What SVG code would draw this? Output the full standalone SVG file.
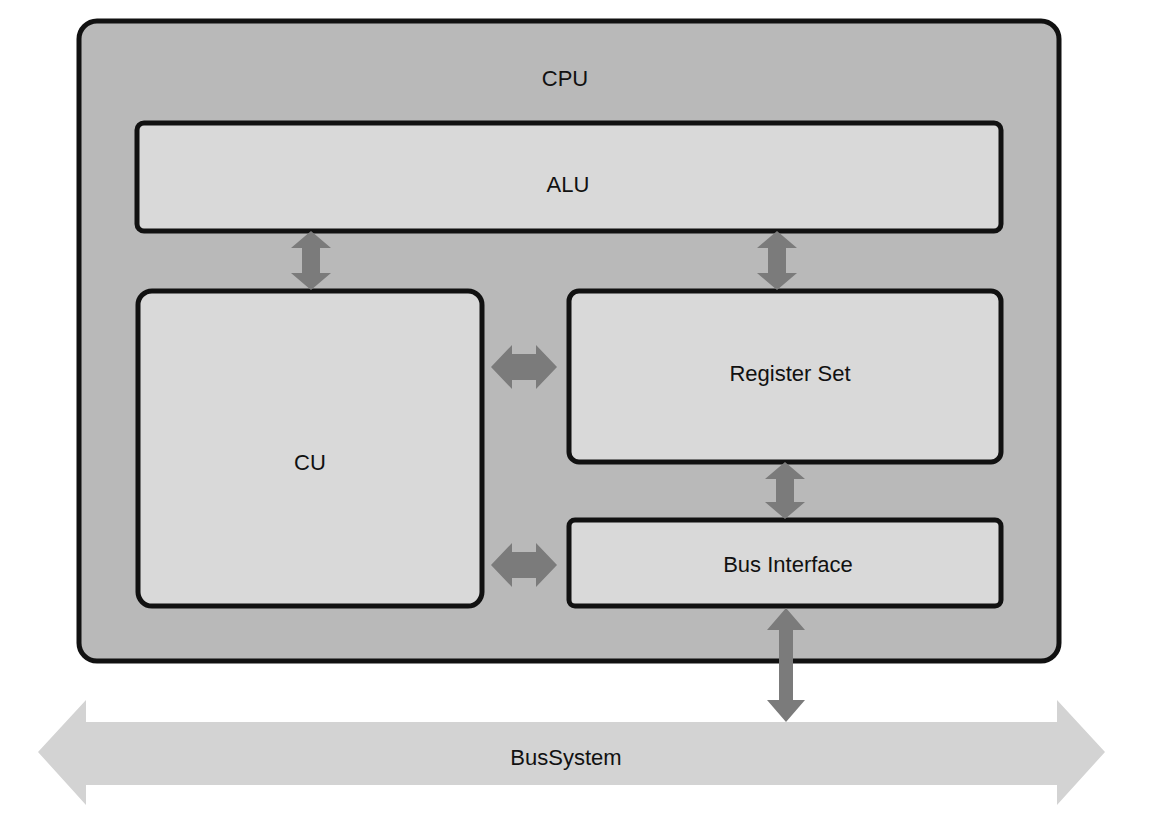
<svg xmlns="http://www.w3.org/2000/svg" width="1158" height="826" viewBox="0 0 1158 826">
<style>
.box{fill:#d9d9d9;stroke:#111;stroke-width:5}
.outer{fill:#b9b9b9;stroke:#111;stroke-width:5}
.arr{fill:#7b7b7b}
.bus{fill:#d3d3d3}
.lbl{font-family:"Liberation Sans",Arial,sans-serif;font-size:22px;fill:#111;text-anchor:middle;dominant-baseline:central}
</style>
<rect width="1158" height="826" fill="#ffffff"/>
<g id="cpu">
<rect class="outer" x="79" y="21" width="980" height="640" rx="18"/>
<text class="lbl" x="565" y="78">CPU</text>
</g>
<g id="busSystem">
<polygon class="bus" points="38,752 86,700 86,722 1057,722 1057,700 1105,752 1057,805 1057,785 86,785 86,805"/>
<text class="lbl" x="566" y="757">BusSystem</text>
</g>
<g id="alu">
<rect class="box" x="137" y="123" width="864" height="108" rx="7"/>
<text class="lbl" x="568" y="184">ALU</text>
</g>
<g id="cu">
<rect class="box" x="138" y="291" width="344" height="315" rx="14"/>
<text class="lbl" x="310" y="462">CU</text>
</g>
<g id="registerSet">
<rect class="box" x="569" y="291" width="432" height="171" rx="10"/>
<text class="lbl" x="790" y="373">Register Set</text>
</g>
<g id="busInterface">
<rect class="box" x="569" y="520" width="432" height="86" rx="6"/>
<text class="lbl" x="788" y="564">Bus Interface</text>
</g>
<g id="connectors">
<polygon class="arr" points="311,231 331,248 320,248 320,273 331,273 311,290 291,273 302,273 302,248 291,248"/>
<polygon class="arr" points="777,231 797,248 786,248 786,273 797,273 777,290 757,273 768,273 768,248 757,248"/>
<polygon class="arr" points="785,462 805,479 794,479 794,502 805,502 785,519 765,502 776,502 776,479 765,479"/>
<polygon class="arr" points="491,367 512,345 512,354 536,354 536,345 557,367 536,389 536,380 512,380 512,389"/>
<polygon class="arr" points="491,565 512,543 512,552 536,552 536,543 557,565 536,587 536,578 512,578 512,587"/>
<polygon class="arr" points="786,608 805,630 793,630 793,700 805,700 786,722 767,700 779,700 779,630 767,630"/>
</g>
</svg>
